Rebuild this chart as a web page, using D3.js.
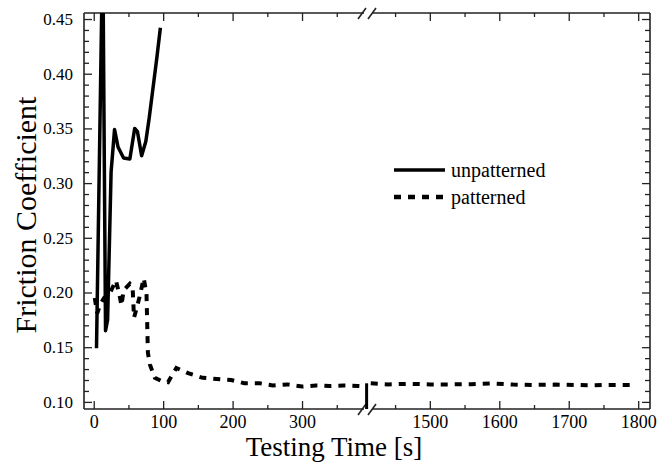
<!DOCTYPE html>
<html>
<head>
<meta charset="utf-8">
<script src="https://cdn.jsdelivr.net/npm/d3@7"></script>
<style>
  body { margin: 0; background: #fff; }
  svg text { font-family: "Liberation Serif", "Times New Roman", serif !important; fill: #000; }
</style>
</head>
<body>
<div id="chart"></div>
<script>
// friction data
const unpatternedTime = [4, 13, 17, 20, 25, 30, 35, 43, 52, 59, 63, 69, 75, 80, 85, 91, 96];
const unpatternedCoef = [0.149, 0.52, 0.165, 0.175, 0.31, 0.349, 0.333, 0.323, 0.322, 0.350, 0.347, 0.325, 0.338, 0.360, 0.385, 0.415, 0.442];

const patternedTimeA = [1.5, 5, 10, 15, 23, 32, 37, 40, 43, 52, 56, 58, 62, 66, 72, 76, 78, 81, 88, 98, 107, 119, 137, 157, 177, 198, 217, 239, 258, 279, 300, 320, 340, 360, 380, 395];
const patternedCoefA = [0.195, 0.181, 0.19, 0.195, 0.199, 0.211, 0.198, 0.188, 0.202, 0.208, 0.205, 0.177, 0.186, 0.196, 0.213, 0.199, 0.145, 0.134, 0.122, 0.119, 0.118, 0.131, 0.126, 0.122, 0.121, 0.120, 0.117, 0.117, 0.115, 0.116, 0.114, 0.115, 0.1145, 0.115, 0.1145, 0.114];
const patternedTimeB = [1415, 1440, 1470, 1500, 1530, 1560, 1590, 1620, 1650, 1680, 1710, 1730, 1760, 1790];
const patternedCoefB = [0.117, 0.116, 0.1165, 0.116, 0.116, 0.1162, 0.1168, 0.1158, 0.1155, 0.1158, 0.1155, 0.1152, 0.1155, 0.1155];

// short bar drawn at the axis break
const breakBarTime = 393;
const breakBarCoef = [0.117, 0.0935];

const xTicksLeft = [0, 100, 200, 300];
const xMinorLeft = [50, 150, 250, 350];
const xTicksRight = [1500, 1600, 1700, 1800];
const xMinorRight = [1450, 1550, 1650, 1750];
const yTicks = [0.10, 0.15, 0.20, 0.25, 0.30, 0.35, 0.40, 0.45];
const yMinor = d3.range(10, 46).filter(d => d % 5 !== 0).map(d => d / 100);

const seriesNames = ["unpatterned", "patterned"];

const width = 672, height = 462;
const plotLeft = 84, plotRight = 650, plotTop = 13, plotBottom = 409, breakX = 368;
const serif = '"Liberation Serif", "Times New Roman", serif';

const svg = d3.select("#chart").append("svg").attr("width", width).attr("height", height);

const xLeft = d3.scaleLinear().domain([-14, 395]).range([plotLeft, breakX]);
const xRight = d3.scaleLinear().domain([1411, 1817]).range([breakX, plotRight]);
const xPos = t => t < 1000 ? xLeft(t) : xRight(t);
const y = d3.scaleLinear().domain([0.0935, 0.4555]).range([plotBottom, plotTop]);

svg.append("clipPath").attr("id", "plot-clip")
    .append("rect").attr("x", plotLeft).attr("y", plotTop)
    .attr("width", plotRight - plotLeft).attr("height", plotBottom - plotTop);

// axes: ticks point inward on all four sides
function xAxes(scale, major, minor) {
    svg.append("g").attr("transform", `translate(0,${plotBottom})`)
        .call(d3.axisBottom(scale).tickValues(major).tickSize(-8).tickPadding(6).tickFormat(d3.format("d")))
        .attr("font-family", serif).attr("font-size", 18);
    svg.append("g").attr("transform", `translate(0,${plotBottom})`)
        .call(d3.axisBottom(scale).tickValues(minor).tickSize(-4).tickFormat(""));
    svg.append("g").attr("transform", `translate(0,${plotTop})`)
        .call(d3.axisTop(scale).tickValues(major).tickSize(-8).tickFormat(""));
    svg.append("g").attr("transform", `translate(0,${plotTop})`)
        .call(d3.axisTop(scale).tickValues(minor).tickSize(-4).tickFormat(""));
}
xAxes(xLeft, xTicksLeft, xMinorLeft);
xAxes(xRight, xTicksRight, xMinorRight);

svg.append("g").attr("transform", `translate(${plotLeft},0)`)
    .call(d3.axisLeft(y).tickValues(yTicks).tickSize(-8).tickPadding(11).tickFormat(d3.format(".2f")))
    .attr("font-family", serif).attr("font-size", 17);
svg.append("g").attr("transform", `translate(${plotLeft},0)`)
    .call(d3.axisLeft(y).tickValues(yMinor).tickSize(-5).tickFormat(""));
svg.append("g").attr("transform", `translate(${plotRight},0)`)
    .call(d3.axisRight(y).tickValues(yTicks).tickSize(-8).tickFormat(""));
svg.append("g").attr("transform", `translate(${plotRight},0)`)
    .call(d3.axisRight(y).tickValues(yMinor).tickSize(-5).tickFormat(""));

svg.selectAll(".domain").remove();
svg.selectAll(".tick line").attr("stroke", "#222").attr("stroke-width", 1.3);

// frame with gaps at the break
const frame = svg.append("g").attr("stroke", "#222").attr("stroke-width", 1.6).attr("fill", "none");
frame.append("line").attr("x1", plotLeft).attr("x2", plotLeft).attr("y1", plotTop).attr("y2", plotBottom);
frame.append("line").attr("x1", plotRight).attr("x2", plotRight).attr("y1", plotTop).attr("y2", plotBottom);
[plotTop, plotBottom].forEach(yy => {
    frame.append("line").attr("x1", plotLeft).attr("x2", breakX - 4).attr("y1", yy).attr("y2", yy);
    frame.append("line").attr("x1", breakX + 4).attr("x2", plotRight).attr("y1", yy).attr("y2", yy);
    frame.append("line").attr("x1", breakX - 10).attr("y1", yy + 6).attr("x2", breakX - 2).attr("y2", yy - 5);
    frame.append("line").attr("x1", breakX).attr("y1", yy + 6).attr("x2", breakX + 8).attr("y2", yy - 5);
});

const line = d3.line().x(d => xPos(d[0])).y(d => y(d[1]));
const plot = svg.append("g").attr("clip-path", "url(#plot-clip)");

plot.append("path")
    .attr("d", line(d3.zip(patternedTimeA, patternedCoefA)))
    .attr("fill", "none").attr("stroke", "#000").attr("stroke-width", 4)
    .attr("stroke-dasharray", "7,7");
plot.append("path")
    .attr("d", line(d3.zip(patternedTimeB, patternedCoefB)))
    .attr("fill", "none").attr("stroke", "#000").attr("stroke-width", 4)
    .attr("stroke-dasharray", "7,7");
plot.append("line")
    .attr("x1", xPos(breakBarTime)).attr("x2", xPos(breakBarTime))
    .attr("y1", y(breakBarCoef[0])).attr("y2", y(breakBarCoef[1]))
    .attr("stroke", "#000").attr("stroke-width", 3);
plot.append("path")
    .attr("d", line(d3.zip(unpatternedTime, unpatternedCoef)))
    .attr("fill", "none").attr("stroke", "#000").attr("stroke-width", 3.5)
    .attr("stroke-linejoin", "round");

// legend
const legend = svg.append("g");
seriesNames.forEach((name, i) => {
    const ly = 170 + i * 27;
    legend.append("line")
        .attr("x1", 394).attr("x2", 445).attr("y1", ly).attr("y2", ly)
        .attr("stroke", "#000").attr("stroke-width", i === 0 ? 3.5 : 4.5)
        .attr("stroke-dasharray", i === 0 ? null : "7,7");
    legend.append("text").attr("x", 451).attr("y", ly + 7)
        .style("font-size", "20px").text(name);
});

// axis titles
svg.append("text").attr("x", 334).attr("y", 456).attr("text-anchor", "middle")
    .style("font-size", "27px").text("Testing Time [s]");
svg.append("text").attr("transform", "translate(36,215) rotate(-90)").attr("text-anchor", "middle")
    .style("font-size", "30px").text("Friction Coefficient");
</script>
</body>
</html>
